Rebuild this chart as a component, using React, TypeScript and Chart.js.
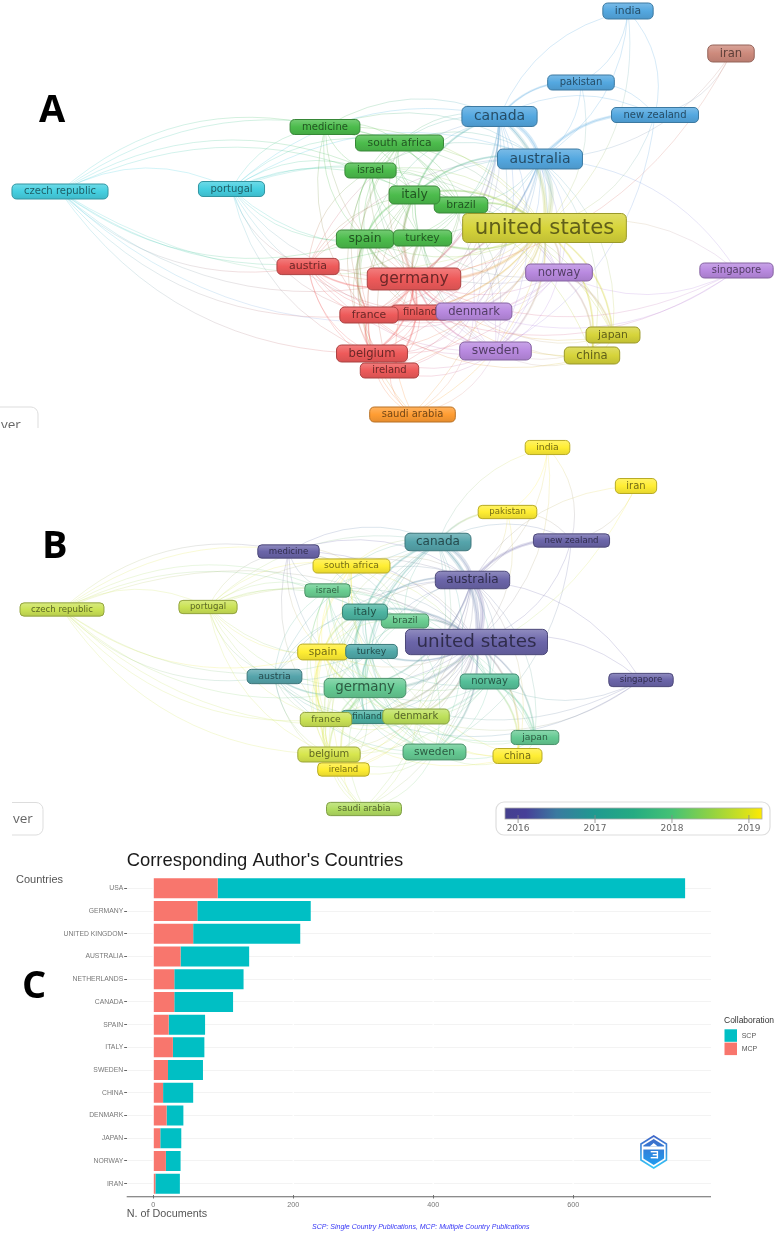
import React, { useEffect, useRef } from "react";
import { Chart, registerables } from "chart.js";

Chart.register(...registerables);

// ---------- network data (VOSviewer maps A and B) ----------
const nodeNames = ["czech republic","portugal","medicine","south africa","israel","brazil","italy","spain","turkey","finland","austria","germany","france","belgium","ireland","saudi arabia","denmark","sweden","norway","china","japan","singapore","united states","canada","australia","pakistan","india","iran","new zealand"];
const mapAX = [60,231.5,325,399.5,370.5,461,414.5,365,422.5,420,308,414,369,372,389.5,412.5,474,495.5,559,592,613,736.5,544.5,499.5,540,581,628,731,655];
const mapAY = [191.5,189,127,143,170.5,205,195,239,238,312.5,266.5,279,315,353.5,370.5,414.5,311.5,351,272.5,355.5,335,270.5,228,116.5,159,82.5,11,53.5,115];
const mapBX = [62,208,288.5,351.5,327.5,405,365,323,371.5,367,274.5,365,326,329,343.5,364,416,434.5,489.5,517.5,535,641,476.5,438,472.5,507.5,547.5,636,571.5];
const mapBY = [609.5,607,551.5,566,590.5,621,612,652,651.5,717,676.5,688,719.5,754.5,769.5,809,716.5,752,681.5,756,737.5,680,642,542,580,512,447.5,486,540.5];
const nodeWeights = [10,10,10,10.8,10,10.8,12.4,12.4,10.8,10,11,15.6,10.8,11.6,10,10,11.6,12.4,11.6,11.6,10.8,10,21.3,14,14,10,10.8,11.6,10];
const nodeClusters = [5,5,1,1,1,1,1,1,1,0,0,0,0,0,0,6,4,4,4,3,3,4,3,2,2,2,2,7,2];
const nodeYears = [2018.8,2018.8,2016,2019.2,2018,2018,2017.2,2019.2,2016.9,2017.1,2016.8,2017.9,2018.8,2018.9,2019.2,2018.6,2018.7,2017.9,2017.6,2019.2,2017.9,2016,2016,2016.8,2016,2019.2,2019.2,2019.2,2016];
const clusterColors = ["#ee5a5a","#4cbc4c","#54a8e0","#d6d43a","#b98ae0","#45cfe0","#ff9d33","#cd8a7c"];
const yearStops: [number, string][] = [[2015.83,"#45408e"],[2016.1,"#463f98"],[2016.5,"#3a7aa0"],[2017,"#1f9a90"],[2017.5,"#25ab82"],[2018,"#45c275"],[2018.5,"#8fd244"],[2019,"#dde318"],[2019.17,"#ffea00"]];
const yearTicks = [2016,2017,2018,2019];

const linkTable: [string, string[]][] = [
  ["czech republic",["portugal","israel","italy","south africa","spain","germany","austria","france","belgium","united states","denmark","medicine","turkey"]],
  ["portugal",["israel","italy","spain","germany","austria","france","finland","belgium","turkey","brazil","canada","united states","australia","south africa","medicine"]],
  ["medicine",["south africa","israel","italy","spain","germany","canada","australia","united states","brazil","france"]],
  ["south africa",["israel","italy","brazil","spain","turkey","germany","canada","australia","united states","norway","sweden","denmark","france","belgium"]],
  ["israel",["italy","brazil","spain","turkey","germany","canada","australia","united states","france","austria","sweden","norway","belgium","denmark"]],
  ["italy",["brazil","spain","turkey","germany","canada","australia","united states","france","finland","denmark","sweden","norway","austria","belgium","ireland","japan","china"]],
  ["brazil",["spain","turkey","germany","canada","australia","united states","france","denmark","sweden","norway","japan"]],
  ["spain",["turkey","germany","canada","australia","united states","austria","france","finland","denmark","sweden","norway","belgium","ireland","saudi arabia"]],
  ["turkey",["germany","canada","australia","united states","france","austria","sweden","denmark","norway","finland"]],
  ["germany",["united states","canada","australia","austria","france","finland","denmark","sweden","norway","belgium","ireland","saudi arabia","china","japan","singapore"]],
  ["austria",["france","finland","belgium","ireland","united states","canada","denmark","sweden","australia"]],
  ["france",["finland","denmark","belgium","ireland","saudi arabia","united states","australia","canada","sweden","norway","china"]],
  ["finland",["denmark","belgium","ireland","united states","sweden","norway","australia","canada","singapore"]],
  ["belgium",["ireland","denmark","sweden","united states","saudi arabia","australia","canada","norway"]],
  ["ireland",["denmark","sweden","united states","saudi arabia","australia"]],
  ["saudi arabia",["sweden","denmark","united states","canada"]],
  ["denmark",["sweden","norway","united states","australia","canada","japan","china","singapore"]],
  ["sweden",["norway","united states","australia","canada","japan","china","new zealand"]],
  ["norway",["united states","australia","canada","japan","china","singapore"]],
  ["united states",["canada","australia","pakistan","india","new zealand","singapore","japan","china"]],
  ["canada",["australia","pakistan","india","new zealand"]],
  ["australia",["pakistan","india","new zealand","iran","singapore","china","japan"]],
  ["pakistan",["india","new zealand"]],
  ["india",["new zealand"]],
  ["new zealand",["iran"]],
  ["iran",["germany"]],
  ["japan",["china"]],
];
const strongLinks: [string, string, number][] = [
  ["united states","canada",4],["united states","australia",5],["canada","australia",4],["united states","germany",3],
  ["germany","france",3],["germany","belgium",2],["germany","spain",2],["germany","italy",3],["germany","austria",2],
  ["united states","japan",2],["united states","china",2],["australia","new zealand",3],["canada","pakistan",2],["italy","spain",2],
  ["germany","ireland",2],["germany","finland",2],["germany","denmark",2],["germany","sweden",2],["germany","turkey",2],
  ["france","belgium",2],["france","spain",2],["turkey","united states",2],["united states","italy",2],["united states","brazil",2],
  ["united states","france",2],["united states","sweden",2],["united states","norway",2],["united states","denmark",2],
  ["canada","germany",2],["australia","germany",2],["australia","italy",2],["canada","italy",2],["norway","japan",2],["norway","china",2],
];

// ---------- bar chart data (panel C) ----------
const countries = ["USA","GERMANY","UNITED KINGDOM","AUSTRALIA","NETHERLANDS","CANADA","SPAIN","ITALY","SWEDEN","CHINA","DENMARK","JAPAN","NORWAY","IRAN"];
const mcpValues = [92,63,57,39,30,30,22,28,21,14,19,10,18,3];
const scpValues = [668,162,153,98,99,84,52,45,50,43,24,30,21,35];
const docTicks = [0,200,400,600];

// ---------- helpers ----------
const SANS = '"Liberation Sans", Arial, sans-serif';
const MAP = '"DejaVu Sans", sans-serif';

function hex(c: string) { return [1,3,5].map((i) => parseInt(c.slice(i, i + 2), 16)); }
function mix(c: string, t: string, a: number) {
  const p = hex(c), q = hex(t);
  const v = p.map((x, i) => Math.round(x + (q[i] - x) * a).toString(16).padStart(2, "0"));
  return "#" + v.join("");
}
function yearColor(y: number) {
  for (let i = 1; i < yearStops.length; i++) {
    if (y <= yearStops[i][0]) {
      const [a, ca] = yearStops[i - 1], [b, cb] = yearStops[i];
      return mix(ca, cb, (y - a) / (b - a));
    }
  }
  return yearStops[yearStops.length - 1][1];
}
function rgba(c: string, a: number) { const [r, g, b] = hex(c); return `rgba(${r},${g},${b},${a})`; }

type NetCfg = {
  xs: number[]; ys: number[]; yMin: number; yMax: number; fontScale: number; pad: number;
  colors: string[]; lighten: number; centerY: number; centerX: number; alpha: number; decorate: (c: any, ctx: CanvasRenderingContext2D) => void;
};

function makeNetwork(canvas: HTMLCanvasElement, cfg: NetCfg) {
  const plugin = {
    id: "network",
    beforeDatasetsDraw(chart: any) {
      const ctx: CanvasRenderingContext2D = chart.ctx;
      const pts = chart.getDatasetMeta(0).data;
      const cx = chart.scales.x.getPixelForValue(cfg.centerX);
      const cy = chart.scales.y.getPixelForValue(cfg.centerY);
      const line = (a: string, b: string, w: number) => {
        const i = nodeNames.indexOf(a), j = nodeNames.indexOf(b);
        if (i < 0 || j < 0) return;
        const p = pts[i], q = pts[j];
        const mx = (p.x + q.x) / 2, my = (p.y + q.y) / 2;
        let nx = -(q.y - p.y), ny = q.x - p.x;
        if (nx * (mx - cx) + ny * (my - cy) < 0) { nx = -nx; ny = -ny; }
        const g = ctx.createLinearGradient(p.x, p.y, q.x, q.y);
        g.addColorStop(0, rgba(cfg.colors[i], cfg.alpha));
        g.addColorStop(1, rgba(cfg.colors[j], cfg.alpha));
        ctx.strokeStyle = g;
        ctx.lineWidth = w;
        ctx.beginPath();
        ctx.moveTo(p.x, p.y);
        ctx.quadraticCurveTo(mx + nx * 0.26, my + ny * 0.26, q.x, q.y);
        ctx.stroke();
      };
      ctx.save();
      linkTable.forEach(([a, list]) => list.forEach((b) => line(a, b, 1)));
      strongLinks.forEach(([a, b, w]) => line(a, b, w));
      ctx.restore();
    },
    afterDatasetsDraw(chart: any) {
      const ctx: CanvasRenderingContext2D = chart.ctx;
      const pts = chart.getDatasetMeta(0).data;
      ctx.save();
      nodeNames.forEach((name, i) => {
        const f = nodeWeights[i] * cfg.fontScale;
        ctx.font = `${f}px ${MAP}`;
        const tw = ctx.measureText(name).width;
        const w = tw + cfg.pad, h = f * 1.24 + 2.6;
        const x = pts[i].x - w / 2, y = pts[i].y - h / 2;
        const c = cfg.colors[i];
        const g = ctx.createLinearGradient(0, y, 0, y + h);
        g.addColorStop(0, mix(c, "#ffffff", cfg.lighten));
        g.addColorStop(0.5, c);
        g.addColorStop(1, mix(c, "#000000", 0.1));
        ctx.fillStyle = g;
        ctx.strokeStyle = mix(c, "#000000", 0.28);
        ctx.lineWidth = 1;
        ctx.beginPath();
        ctx.roundRect(x, y, w, h, Math.min(5, h * 0.3));
        ctx.fill();
        ctx.stroke();
        ctx.fillStyle = mix(c, "#000000", 0.55);
        ctx.textAlign = "center";
        ctx.textBaseline = "middle";
        ctx.fillText(name, pts[i].x, pts[i].y);
      });
      ctx.restore();
      cfg.decorate(chart, ctx);
    },
  };
  return new Chart(canvas, {
    type: "scatter",
    data: { datasets: [{ data: cfg.xs.map((x, i) => ({ x, y: cfg.ys[i] })), pointRadius: 0, showLine: false }] },
    options: {
      animation: false, responsive: false,
      layout: { padding: 0 },
      plugins: { legend: { display: false }, tooltip: { enabled: false } },
      scales: {
        x: { type: "linear", min: 0, max: 776, display: false },
        y: { type: "linear", min: cfg.yMin, max: cfg.yMax, reverse: true, display: false },
      },
    },
    plugins: [plugin],
  } as any);
}

function letter(ctx: CanvasRenderingContext2D, t: string, x: number, y: number) {
  ctx.save();
  ctx.font = `bold 38px "Open Sans", ${SANS}`;
  ctx.fillStyle = "#000";
  ctx.textAlign = "left";
  ctx.textBaseline = "alphabetic";
  ctx.fillText(t, x, y);
  ctx.restore();
}

function overBox(ctx: CanvasRenderingContext2D, right: number, top: number, bottom: number, clipX: number, textY: number) {
  ctx.save();
  ctx.beginPath();
  ctx.rect(clipX, top - 2, right - clipX + 3, bottom - top + 6);
  ctx.clip();
  ctx.strokeStyle = "#dddddd";
  ctx.lineWidth = 1;
  ctx.beginPath();
  ctx.roundRect(clipX - 30, top, right - clipX + 30, bottom - top, 7);
  ctx.stroke();
  ctx.font = `13.5px "Open Sans", ${MAP}`;
  ctx.fillStyle = "#666";
  ctx.textBaseline = "alphabetic";
  ctx.textAlign = "left";
  ctx.fillText("ver", clipX + 1, textY);
  ctx.restore();
}

function colorBar(chart: any, ctx: CanvasRenderingContext2D) {
  const sx = chart.scales.x, sy = chart.scales.y;
  const Y0 = 2015.83, Y1 = 2019.17;
  const left = sx.getPixelForValue(505), right = sx.getPixelForValue(762);
  const top = sy.getPixelForValue(808), bot = sy.getPixelForValue(819);
  const px = (y: number) => left + ((y - Y0) / (Y1 - Y0)) * (right - left);
  ctx.save();
  ctx.strokeStyle = "#dedede";
  ctx.lineWidth = 1.2;
  ctx.beginPath();
  ctx.roundRect(sx.getPixelForValue(496), sy.getPixelForValue(802), 274, 33, 8);
  ctx.stroke();
  const g = ctx.createLinearGradient(left, 0, right, 0);
  yearStops.forEach(([y, c]) => g.addColorStop((y - Y0) / (Y1 - Y0), c));
  ctx.fillStyle = g;
  ctx.fillRect(left, top, right - left, bot - top);
  ctx.strokeStyle = "#aaa";
  ctx.lineWidth = 0.8;
  ctx.strokeRect(left, top, right - left, bot - top);
  ctx.font = `9px ${MAP}`;
  ctx.fillStyle = "#666";
  ctx.textAlign = "center";
  ctx.textBaseline = "middle";
  ctx.strokeStyle = "#888";
  yearTicks.forEach((y) => {
    ctx.beginPath();
    ctx.moveTo(px(y), sy.getPixelForValue(815));
    ctx.lineTo(px(y), sy.getPixelForValue(823));
    ctx.stroke();
    ctx.fillText(String(y), px(y), sy.getPixelForValue(828.5));
  });
  ctx.restore();
}

function hexPath(ctx: CanvasRenderingContext2D, cx: number, cy: number, r: number) {
  ctx.beginPath();
  for (let k = 0; k < 6; k++) {
    const a = -Math.PI / 2 + (k * Math.PI) / 3;
    const x = cx + r * 0.92 * Math.cos(a), y = cy + r * Math.sin(a);
    if (k === 0) ctx.moveTo(x, y); else ctx.lineTo(x, y);
  }
  ctx.closePath();
}

function drawLogo(ctx: CanvasRenderingContext2D, cx: number, cy: number) {
  ctx.save();
  const g = ctx.createLinearGradient(0, cy - 16, 0, cy + 16);
  g.addColorStop(0, "#3f66c8");
  g.addColorStop(1, "#35c6f8");
  ctx.strokeStyle = g;
  ctx.lineWidth = 1.6;
  hexPath(ctx, cx, cy, 16);
  ctx.stroke();
  const f = ctx.createLinearGradient(0, cy - 13, 0, cy + 13);
  f.addColorStop(0, "#3f6cc8");
  f.addColorStop(1, "#1f9cf0");
  ctx.fillStyle = f;
  hexPath(ctx, cx, cy, 13);
  ctx.fill();
  ctx.fillStyle = "#ffffff";
  ctx.fillRect(cx - 11, cy - 5.5, 22, 3);
  ctx.beginPath();
  ctx.moveTo(cx, cy - 9); ctx.lineTo(cx + 4, cy - 5.5); ctx.lineTo(cx - 4, cy - 5.5); ctx.closePath();
  ctx.fill();
  ctx.fillRect(cx - 3, cy - 1, 7, 1.4);
  ctx.fillRect(cx - 1, cy + 2, 5, 1.4);
  ctx.fillRect(cx - 3, cy + 5, 7, 1.4);
  ctx.fillRect(cx + 3, cy - 1, 1.4, 7.4);
  ctx.restore();
}

const barLabels = {
  id: "barLabels",
  beforeDatasetsDraw(chart: any) {
    const { ctx, chartArea: a, scales } = chart;
    ctx.save();
    ctx.strokeStyle = "#ffffff";
    ctx.lineWidth = 1.4;
    docTicks.forEach((v) => {
      const x = scales.x.getPixelForValue(v);
      ctx.beginPath(); ctx.moveTo(x, a.top - 3); ctx.lineTo(x, a.bottom); ctx.stroke();
    });
    ctx.restore();
  },
  afterDatasetsDraw(chart: any) {
    const ctx: CanvasRenderingContext2D = chart.ctx;
    const a = chart.chartArea;
    ctx.save();
    ctx.strokeStyle = "#666666";
    ctx.lineWidth = 1.1;
    ctx.beginPath(); ctx.moveTo(a.left, a.bottom + 1.7); ctx.lineTo(a.right, a.bottom + 1.7); ctx.stroke();
    ctx.textBaseline = "middle";
    ctx.textAlign = "left";
    ctx.fillStyle = "#1a1a1a";
    ctx.font = `18.4px ${SANS}`;
    ctx.fillText("Corresponding Author's Countries", a.left, 16);
    ctx.fillStyle = "#555555";
    ctx.font = `11px ${SANS}`;
    ctx.fillText("Countries", 16, 34.5);
    ctx.font = `10.8px ${SANS}`;
    ctx.fillText("N. of Documents", a.left, 369);
    ctx.font = `italic 7px ${SANS}`;
    ctx.fillStyle = "#3535f5";
    ctx.fillText("SCP: Single Country Publications, MCP: Multiple Country Publications", 312, 381.7);
    ctx.fillStyle = "#333333";
    ctx.font = `8.5px ${SANS}`;
    ctx.fillText("Collaboration", 724, 175.5);
    ctx.font = `7px ${SANS}`;
    const ds = [...chart.data.datasets].reverse();
    ds.forEach((d: any, i: number) => {
      const y = 184.3 + i * 13.3;
      ctx.fillStyle = d.backgroundColor;
      ctx.fillRect(724.5, y, 12.5, 12.5);
      ctx.fillStyle = "#555555";
      ctx.fillText(d.label, 741.7, y + 6.3);
    });
    drawLogo(ctx, 653.7, 307);
    ctx.restore();
    letter(ctx, "C", 22, 153);
  },
};

function makeBars(canvas: HTMLCanvasElement) {
  return new Chart(canvas, {
    type: "bar",
    data: {
      labels: countries,
      datasets: [
        { label: "MCP", data: mcpValues, backgroundColor: "#F8766D", categoryPercentage: 0.88, barPercentage: 1, borderWidth: 0 },
        { label: "SCP", data: scpValues, backgroundColor: "#00BFC4", categoryPercentage: 0.88, barPercentage: 1, borderWidth: 0 },
      ],
    },
    options: {
      indexAxis: "y", animation: false, responsive: false,
      layout: { padding: { top: 32, right: 65, left: 0, bottom: 0 } },
      plugins: { legend: { display: false }, tooltip: { enabled: false } },
      scales: {
        x: {
          type: "linear", stacked: true, min: -38, max: 797,
          afterBuildTicks(s: any) { s.ticks = docTicks.map((value) => ({ value })); },
          afterFit(s: any) { s.height = 38; },
          border: { display: false },
          grid: { color: "rgba(0,0,0,0)", tickColor: "#777", tickLength: 3.5, drawOnChartArea: false },
          ticks: { color: "#777", font: { size: 7.2, family: SANS }, padding: 2, maxRotation: 0, autoSkip: false },
        },
        y: {
          stacked: true,
          afterFit(s: any) { s.width = 126.7; },
          border: { display: false },
          grid: { offset: false, color: "#f3f3f3", tickColor: "#666", tickLength: 2.5, lineWidth: 1 },
          ticks: { color: "#777", font: { size: 6.8, family: SANS }, padding: 1, autoSkip: false },
        },
      },
    },
    plugins: [barLabels],
  } as any);
}

const canvasStyle = (top: number, blur: number): React.CSSProperties => ({ position: "absolute", left: 0, top, display: "block", filter: `blur(${blur}px)` });

export default function App() {
  const a = useRef<HTMLCanvasElement>(null);
  const b = useRef<HTMLCanvasElement>(null);
  const c = useRef<HTMLCanvasElement>(null);
  useEffect(() => {
    const ca = makeNetwork(a.current!, {
      xs: mapAX, ys: mapAY, yMin: 0, yMax: 428, fontScale: 1, pad: 24,
      colors: nodeClusters.map((k) => clusterColors[k]), lighten: 0.22, centerX: 430, centerY: 215, alpha: 0.24,
      decorate: (_c, ctx) => { letter(ctx, "A", 39, 122); overBox(ctx, 38, 407, 440, 0, 429); },
    });
    const cb = makeNetwork(b.current!, {
      xs: mapBX, ys: mapBY, yMin: 430, yMax: 845, fontScale: 0.86, pad: 22,
      colors: nodeYears.map(yearColor).map((h) => mix(h, "#ffffff", 0.2)), lighten: 0.25, centerX: 400, centerY: 640, alpha: 0.22,
      decorate: (ch, ctx) => { letter(ctx, "B", 42, 128); overBox(ctx, 43, 372.5, 405, 12, 393); colorBar(ch, ctx); },
    });
    const cc = makeBars(c.current!);
    return () => { ca.destroy(); cb.destroy(); cc.destroy(); };
  }, []);
  return (
    <div style={{ position: "absolute", left: 0, top: 0, width: 776, height: 1233, background: "#fff", overflow: "hidden" }}>
      <canvas ref={a} width={776} height={428} style={canvasStyle(0, 0.45)} />
      <canvas ref={b} width={776} height={415} style={canvasStyle(430, 0.45)} />
      <canvas ref={c} width={776} height={388} style={canvasStyle(845, 0.35)} />
    </div>
  );
}
